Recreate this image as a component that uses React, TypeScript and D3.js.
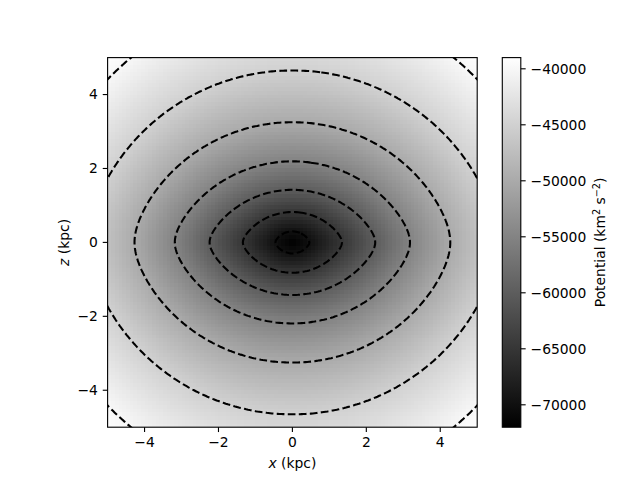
import React, { useEffect, useRef } from 'react'
import * as d3 from 'd3'

const potLevels = [-72000, -70000, -65000, -60000, -55000, -50000, -45000, -40000, -39000]
const xCross = [0, 0.46, 1.34, 2.24, 3.18, 4.27, 5.52, 6.85, 7.3]
const zCross = [0, 0.3, 0.82, 1.42, 2.19, 3.25, 4.65, 6.55, 7.0]

// dashed contour levels and tick labels
const contourLevels = [-70000, -65000, -60000, -55000, -50000, -45000, -40000]
const cbarTicks = [-70000, -65000, -60000, -55000, -50000, -45000, -40000]
const axisTicks = [-4, -2, 0, 2, 4]
const vmin = -72000
const vmax = -39000
// rounding of the lens tips on the x axis, as a share of the z crossing
const tipSoft = 0.18

const xAt = d3.scaleLinear().domain(potLevels).range(xCross).clamp(true)
const zAt = d3.scaleLinear().domain(potLevels).range(zCross).clamp(true)

// > 0 when (x, z) lies outside the lens shaped iso-potential of value u
const lens = (u: number, x: number, z: number) => {
  const X = xAt(u)
  const Z = zAt(u)
  if (Z <= 1e-9) return x * x + z * z
  const s = tipSoft * Z
  const zt = (v: number) => Math.sqrt(v * v + s * s) - s
  return x * x + z * z + (zt(z) * (X * X - Z * Z)) / zt(Z) - X * X
}

const potential = (x: number, z: number) => {
  let lo = potLevels[0]
  let hi = potLevels[potLevels.length - 1]
  if (lens(hi, x, z) > 0) return hi
  for (let k = 0; k < 32; k++) {
    const mid = (lo + hi) / 2
    if (lens(mid, x, z) > 0) lo = mid
    else hi = mid
  }
  return (lo + hi) / 2
}

const App = () => {
  const svgRef = useRef<SVGSVGElement>(null)

  useEffect(() => {
    const width = 640
    const height = 480
    const left = 107.6
    const right = 477.2
    const top = 57.6
    const bottom = 427.2
    const font = 'DejaVu Sans, sans-serif'
    const fs = 13.89
    const tickLen = 4.86
    const tickW = 1.11
    const pad = 4.86

    const svg = d3.select(svgRef.current).attr('width', width).attr('height', height)
    svg.selectAll('*').remove()
    svg.append('rect').attr('width', width).attr('height', height).attr('fill', '#fff')

    const x = d3.scaleLinear().domain([-5, 5]).range([left, right])
    const y = d3.scaleLinear().domain([-5, 5]).range([bottom, top])
    const color = d3.scaleLinear<string>().domain([vmin, vmax]).range(['#000', '#fff']).clamp(true)

    // heatmap, 100 x 100 cells
    const n = 100
    const cell = 10 / n
    const cells: { x0: number; z0: number; v: number }[] = []
    for (let j = 0; j < n; j++) {
      for (let i = 0; i < n; i++) {
        const x0 = -5 + i * cell
        const z0 = -5 + j * cell
        cells.push({ x0, z0, v: potential(x0 + cell / 2, z0 + cell / 2) })
      }
    }
    svg
      .append('g')
      .attr('shape-rendering', 'crispEdges')
      .selectAll('rect')
      .data(cells)
      .join('rect')
      .attr('x', (d) => x(d.x0))
      .attr('y', (d) => y(d.z0 + cell))
      .attr('width', x(cell) - x(0))
      .attr('height', y(0) - y(cell))
      .attr('fill', (d) => color(d.v))

    // contours on a finer, padded grid, clipped to the axes
    svg
      .append('clipPath')
      .attr('id', 'plot-clip')
      .append('rect')
      .attr('x', left)
      .attr('y', top)
      .attr('width', right - left)
      .attr('height', bottom - top)

    const gN = 241
    const g0 = -6
    const step = 12 / (gN - 1)
    const values: number[] = new Array(gN * gN)
    for (let j = 0; j < gN; j++) {
      for (let i = 0; i < gN; i++) {
        values[j * gN + i] = potential(g0 + i * step, g0 + j * step)
      }
    }
    const gx = (c: number) => g0 + (c - 0.5) * step
    const contours = d3.contours().size([gN, gN]).thresholds(contourLevels)(values)
    const pathOf = (mp: d3.ContourMultiPolygon) =>
      mp.coordinates
        .map((poly) =>
          poly
            .map((ring) => 'M' + ring.map((p) => `${x(gx(p[0]))},${y(gx(p[1]))}`).join('L') + 'Z')
            .join('')
        )
        .join('')

    svg
      .append('g')
      .attr('clip-path', 'url(#plot-clip)')
      .selectAll('path')
      .data(contours)
      .join('path')
      .attr('d', pathOf)
      .attr('fill', 'none')
      .attr('stroke', '#000')
      .attr('stroke-width', 2.08)
      .attr('stroke-dasharray', '7.71,3.33')

    // frame
    svg
      .append('rect')
      .attr('x', left)
      .attr('y', top)
      .attr('width', right - left)
      .attr('height', bottom - top)
      .attr('fill', 'none')
      .attr('stroke', '#000')
      .attr('stroke-width', tickW)

    const fmt = d3.format('d')

    // x axis
    const xa = svg.append('g')
    axisTicks.forEach((t) => {
      xa.append('line')
        .attr('x1', x(t))
        .attr('x2', x(t))
        .attr('y1', bottom)
        .attr('y2', bottom + tickLen)
        .attr('stroke', '#000')
        .attr('stroke-width', tickW)
      xa.append('text')
        .text(fmt(t))
        .attr('x', x(t))
        .attr('y', bottom + tickLen + pad + 10.2)
        .attr('text-anchor', 'middle')
        .style('font-family', font)
        .style('font-size', fs + 'px')
    })
    const xl = svg
      .append('text')
      .attr('x', (left + right) / 2)
      .attr('y', 468)
      .attr('text-anchor', 'middle')
      .style('font-family', font)
      .style('font-size', fs + 'px')
    xl.append('tspan').attr('font-style', 'italic').text('x')
    xl.append('tspan').text(' (kpc)')

    // y axis
    const ya = svg.append('g')
    axisTicks.forEach((t) => {
      ya.append('line')
        .attr('x1', left - tickLen)
        .attr('x2', left)
        .attr('y1', y(t))
        .attr('y2', y(t))
        .attr('stroke', '#000')
        .attr('stroke-width', tickW)
      ya.append('text')
        .text(fmt(t))
        .attr('x', left - tickLen - pad)
        .attr('y', y(t))
        .attr('dy', '0.35em')
        .attr('text-anchor', 'end')
        .style('font-family', font)
        .style('font-size', fs + 'px')
    })
    const yl = svg
      .append('text')
      .attr('transform', `translate(69, ${(top + bottom) / 2}) rotate(-90)`)
      .attr('text-anchor', 'middle')
      .style('font-family', font)
      .style('font-size', fs + 'px')
    yl.append('tspan').attr('font-style', 'italic').text('z')
    yl.append('tspan').text(' (kpc)')

    // colorbar
    const cbL = 502.3
    const cbR = 520.8
    const cbY = d3.scaleLinear().domain([vmin, vmax]).range([bottom, top])
    const grad = svg
      .append('defs')
      .append('linearGradient')
      .attr('id', 'cbar-grad')
      .attr('x1', 0)
      .attr('y1', 1)
      .attr('x2', 0)
      .attr('y2', 0)
    grad.append('stop').attr('offset', 0).attr('stop-color', color(vmin))
    grad.append('stop').attr('offset', 1).attr('stop-color', color(vmax))
    svg
      .append('rect')
      .attr('x', cbL)
      .attr('y', top)
      .attr('width', cbR - cbL)
      .attr('height', bottom - top)
      .attr('fill', 'url(#cbar-grad)')
      .attr('stroke', '#000')
      .attr('stroke-width', tickW)

    const ca = svg.append('g')
    cbarTicks.forEach((t) => {
      ca.append('line')
        .attr('x1', cbR)
        .attr('x2', cbR + tickLen)
        .attr('y1', cbY(t))
        .attr('y2', cbY(t))
        .attr('stroke', '#000')
        .attr('stroke-width', tickW)
      ca.append('text')
        .text(fmt(t))
        .attr('x', cbR + tickLen + pad)
        .attr('y', cbY(t))
        .attr('dy', '0.35em')
        .style('font-family', font)
        .style('font-size', fs + 'px')
    })
    const cl = svg
      .append('text')
      .attr('transform', `translate(605, ${(top + bottom) / 2}) rotate(-90)`)
      .attr('text-anchor', 'middle')
      .style('font-family', font)
      .style('font-size', fs + 'px')
    cl.append('tspan').text('Potential (km')
    cl.append('tspan').attr('dy', -5).style('font-size', '9.7px').text('2')
    cl.append('tspan').attr('dy', 5).text(' s')
    cl.append('tspan').attr('dy', -5).style('font-size', '9.7px').text('\u22122')
    cl.append('tspan').attr('dy', 5).text(')')
  }, [])

  return <svg ref={svgRef} style={{ position: 'absolute', left: 0, top: 0 }}></svg>
}

export default App
